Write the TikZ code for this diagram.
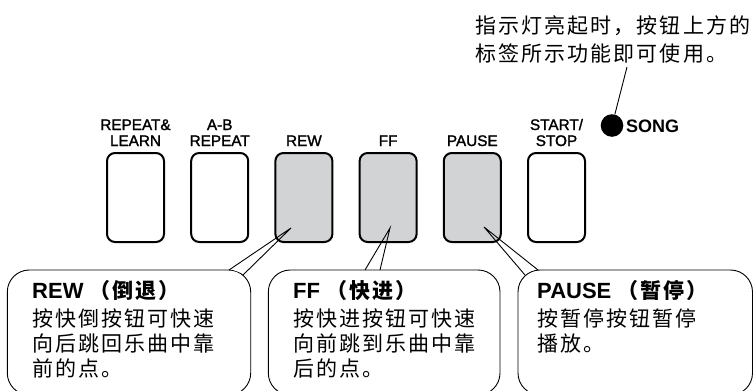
\documentclass[tikz,border=0pt]{standalone}
\usepackage{fontspec}
\setmainfont{Liberation Sans}
\newfontfamily\lblfont{Liberation Sans}[FakeBold=1.6]
\newfontfamily\cjk{Noto Sans CJK SC}[LetterSpace=10]
\definecolor{btngray}{HTML}{D1D3D4}
\newcommand\coheadfont{\rmfamily\fontsize{22}{25}\selectfont\bfseries}
\begin{document}
\begin{tikzpicture}[x=1pt,y=-1pt,
  btn/.style={draw=black,line width=2pt,rounded corners=8pt,minimum width=57pt,minimum height=89pt,inner sep=0pt,outer sep=0pt},
  lit/.style={btn,fill=btngray},
  lbl/.style={anchor=base,align=center,inner sep=0pt,font=\lblfont\fontsize{15.3}{16}\selectfont},
  callout/.style={draw=black,fill=white,line width=0.9pt,rounded corners=22pt,inner sep=0pt,outer sep=0pt,minimum height=125pt},
  ptr/.style={draw=black,line width=0.9pt,line join=miter},
  cotext/.style={anchor=base west,align=left,inner sep=0pt,font=\cjk\fontsize{21}{25}\selectfont}
]
\useasboundingbox (0,0) rectangle (753,391);
\clip (0,0) rectangle (753,391);

% callout boxes
\node[callout,minimum width=243.4pt] (c1) at (129,332.5) {};
\node[callout,minimum width=231.7pt] (c2) at (384.15,332.5) {};
\node[callout,minimum width=234.5pt] (c3) at (635.25,332.5) {};

% pointer geometry
\coordinate (t1) at (291,228);
\coordinate (a1) at (229,270);
\coordinate (z1) at (243,275);
\coordinate (t2) at (390,228);
\coordinate (a2) at (365,270);
\coordinate (z2) at (380,270);
\coordinate (t3) at (484,227);
\coordinate (a3) at (525,275);
\coordinate (z3) at (538,270);

\fill[white] (t1) -- ([yshift=1.5pt]a1) -- ([yshift=1.5pt]z1) -- cycle;
\fill[white] (t2) -- ([yshift=1.5pt]a2) -- ([yshift=1.5pt]z2) -- cycle;
\fill[white] (t3) -- ([yshift=1.5pt]a3) -- ([yshift=1.5pt]z3) -- cycle;

% buttons
\node[btn] (b1) at (135.5,197.5) {};
\node[btn] (b2) at (219.7,197.5) {};
\node[lit] (b3) at (303.9,197.5) {};
\node[lit] (b4) at (388.1,197.5) {};
\node[lit] (b5) at (472.3,197.5) {};
\node[btn] (b6) at (556.5,197.5) {};

% pointers
\draw[ptr] (a1) -- (t1) -- (z1);
\draw[ptr] (a2) -- (t2) -- (z2);
\draw[ptr] (a3) -- (t3) -- (z3);

% button labels (base = last line)
\node[lbl] (l1) at (135.5,146) {REPEAT\&\\LEARN};
\node[lbl] (l2) at (219.7,146) {A-B\\REPEAT};
\node[lbl] (l3) at (303.9,146) {REW};
\node[lbl] (l4) at (388.1,146) {FF};
\node[lbl] (l5) at (472.3,146) {PAUSE};
\node[lbl] (l6) at (556.5,146) {START/\\STOP};

% song lamp
\node[circle,fill=black,minimum size=22.6pt,inner sep=0pt] (led) at (612,125.5) {};
\node[anchor=base west,inner sep=0pt,font=\fontsize{18}{20}\selectfont\bfseries] (song) at (626,132) {SONG};

% note
\node[anchor=base west,align=left,inner sep=0pt,font=\cjk\fontsize{21}{28}\selectfont] (note) at (475,61) {指示灯亮起时，按钮上方的\\标签所示功能即可使用。};
\coordinate (nt) at (627,67);
\draw[line width=0.9pt] (nt) -- (led);

% callout texts (base = last line)
\node[cotext] (x1) at (32,376.5) {{\coheadfont REW }{\cjk\bfseries （倒退）}\\[3.5pt]按快倒按钮可快速\\向后跳回乐曲中靠\\前的点。};
\node[cotext] (x2) at (293,376.5) {{\coheadfont FF }{\cjk\bfseries （快进）}\\[3.5pt]按快进按钮可快速\\向前跳到乐曲中靠\\后的点。};
\node[cotext] (x3) at (537,351.5) {{\coheadfont PAUSE }{\cjk\bfseries （暂停）}\\[3.5pt]按暂停按钮暂停\\播放。};
\end{tikzpicture}
\end{document}
